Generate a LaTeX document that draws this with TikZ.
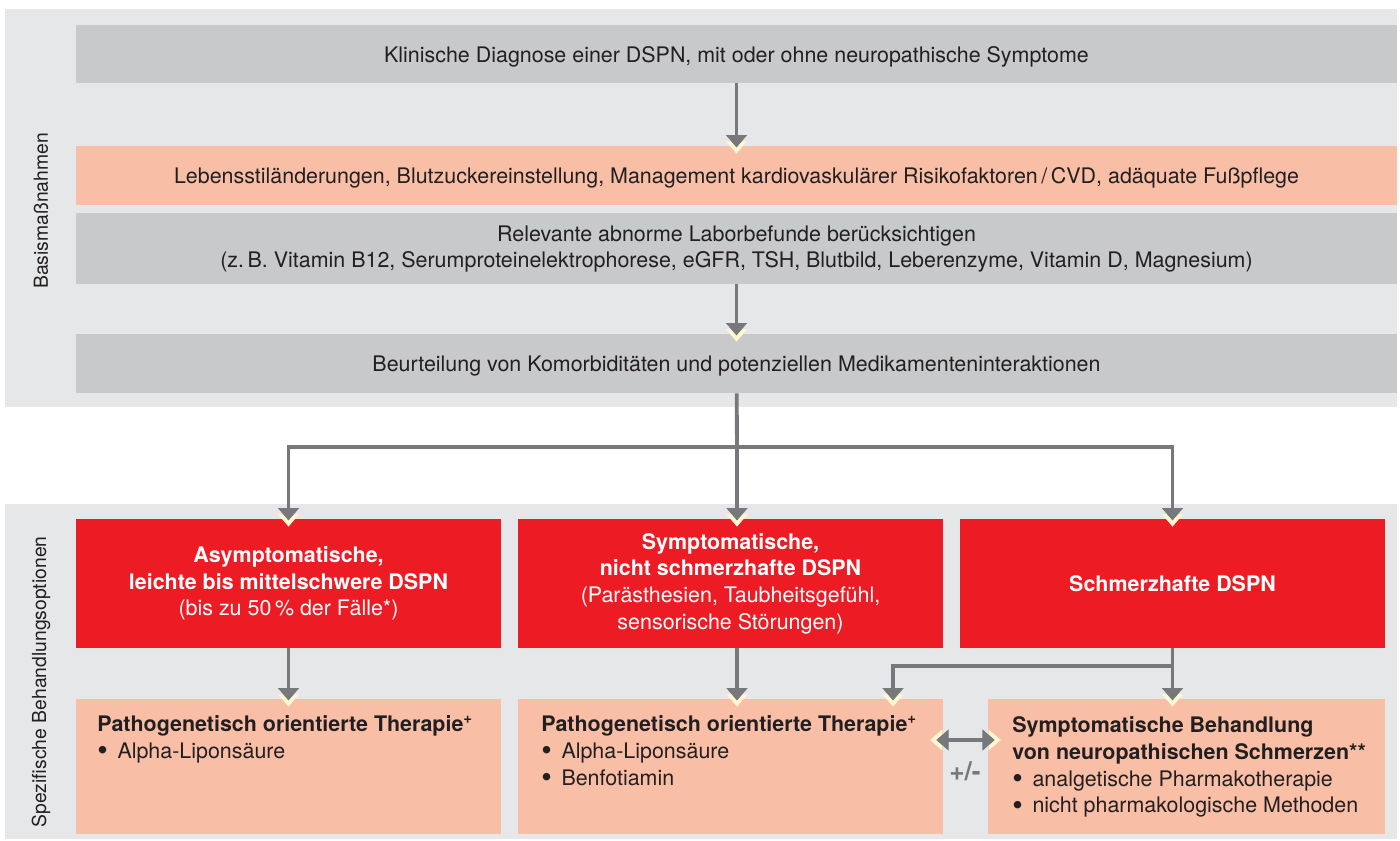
\documentclass[tikz,border=0pt]{standalone}
\usepackage{fontspec}
\setmainfont{TeX Gyre Heros}
\usetikzlibrary{arrows.meta}
\definecolor{panelgray}{HTML}{E6E7E8}
\definecolor{boxgray}{HTML}{C8C9CB}
\definecolor{salmon}{HTML}{F9BFA6}
\definecolor{dsred}{HTML}{ED1C24}
\definecolor{arrowgray}{HTML}{77787B}
\definecolor{cream}{HTML}{FFF6D2}
\definecolor{ink}{HTML}{231F20}
\newcommand{\pkt}{\raisebox{-0.12em}{\scalebox{1.4}{\textbullet}}\hspace{0.45em}}
\tikzstyle{panel}=[fill=panelgray]
\tikzstyle{basebox}=[inner sep=0pt, minimum width=26.42cm, align=center, text=ink, font=\fontsize{12.2}{14.8}\selectfont]
\tikzstyle{graybox}=[basebox, fill=boxgray]
\tikzstyle{lifebox}=[basebox, fill=salmon]
\tikzstyle{redbox}=[fill=dsred, text=white, inner sep=0pt, minimum width=8.5cm, minimum height=2.58cm, align=center, font=\fontsize{12.2}{15.2}\selectfont]
\tikzstyle{therapybox}=[fill=salmon, inner sep=0pt, minimum height=2.7cm]
\tikzstyle{therapytext}=[anchor=north west, inner sep=0pt, align=left, text=ink, font=\fontsize{12.2}{15.3}\selectfont]
\tikzstyle{sidelabel}=[rotate=90, text=ink, font=\fontsize{11}{13}\selectfont]
\tikzstyle{pmlabel}=[text=arrowgray, font=\fontsize{15}{17}\selectfont\bfseries]
\tikzstyle{conn}=[draw=arrowgray, line width=2.2pt]
\tikzstyle{arr}=[conn, -{Triangle[length=7pt,width=12pt,line width=0.4pt]}, shorten >=-1pt,
  preaction={draw=cream, -{Triangle[length=7pt,width=12pt,line width=0.4pt]}, shorten >=-4.5pt}]
\tikzstyle{dblarr}=[conn, {Triangle[length=7pt,width=12pt,line width=0.4pt]}-{Triangle[length=7pt,width=12pt,line width=0.4pt]}, shorten >=-4pt, shorten <=-4pt,
  preaction={draw=cream, {Triangle[length=7pt,width=12pt,line width=0.4pt]}-{Triangle[length=7pt,width=12pt,line width=0.4pt]}, shorten >=-7.5pt, shorten <=-7.5pt}]
\begin{document}
\begin{tikzpicture}[x=0.02cm, y=-0.02cm]
\useasboundingbox (0,0) rectangle (1400,841);
\fill[panel] (5,9) rectangle (1397,407);
\fill[panel] (5,504) rectangle (1397,839);
\node[sidelabel] at (41,211) (basis) {Basismaßnahmen};
\node[sidelabel] at (41,682) (spezifisch) {Spezifische Behandlungsoptionen};
\node[graybox, minimum height=1.16cm, text depth=0pt] at (736.5,54) (diag) {Klinische Diagnose einer DSPN, mit oder ohne neuropathische Symptome};
\node[lifebox, minimum height=1.18cm, text depth=0pt] at (736.5,175.5) (life) {Lebensstiländerungen, Blutzuckereinstellung, Management kardiovaskulärer Risikofaktoren\,/\,CVD, adäquate Fußpflege};
\node[graybox, minimum height=1.42cm] at (736.5,248.5) (labor) {Relevante abnorme Laborbefunde berücksichtigen\\(z.\,B. Vitamin B12, Serumproteinelektrophorese, eGFR, TSH, Blutbild, Leberenzyme, Vitamin D, Magnesium)};
\node[graybox, minimum height=1.18cm, text depth=0pt] at (736.5,363.5) (komorb) {Beurteilung von Komorbiditäten und potenziellen Medikamenteninteraktionen};
\node[redbox] at (288.5,583.5) (asym) {\textbf{Asymptomatische,}\\\textbf{leichte bis mittelschwere DSPN}\\(bis zu 50\,\% der Fälle*)};
\node[redbox] at (730.5,583.5) (sympt) {\textbf{Symptomatische,}\\\textbf{nicht schmerzhafte DSPN}\\(Parästhesien, Taubheitsgefühl,\\sensorische Störungen)};
\node[redbox] at (1172.5,583.5) (schmerz) {\textbf{Schmerzhafte DSPN}};
\node[therapybox, minimum width=8.5cm] at (288.5,766.5) (patho1) {};
\node[therapybox, minimum width=8.5cm] at (730.5,766.5) (patho2) {};
\node[therapybox, minimum width=7.94cm] at (1186.5,766.5) (sympbeh) {};
\node[therapytext] at (97,715) (patho1txt) {\textbf{Pathogenetisch orientierte Therapie\textsuperscript{+}}\\\pkt Alpha-Liponsäure};
\node[therapytext] at (541,715) (patho2txt) {\textbf{Pathogenetisch orientierte Therapie\textsuperscript{+}}\\\pkt Alpha-Liponsäure\\\pkt Benfotiamin};
\node[therapytext] at (1012,716) (sympbehtxt) {\textbf{Symptomatische Behandlung}\\\textbf{von neuropathischen Schmerzen**}\\\pkt analgetische Pharmakotherapie\\\pkt nicht pharmakologische Methoden};
\coordinate (split) at (737,447);
\coordinate (knick) at (893,666);
\coordinate (plusminus) at (965,740);
\draw[arr] (diag) -- (life);
\draw[arr] (labor) -- (komorb);
\draw[conn] (komorb) -- (split);
\draw[arr] (split) -| (asym);
\draw[arr] (split) -| (schmerz);
\draw[arr] (split) -- (split |- sympt.north);
\draw[arr] (asym) -- (patho1);
\draw[arr] (sympt.south -| split) -- (patho2.north -| split);
\draw[arr] (schmerz) -- (schmerz |- sympbeh.north);
\draw[arr] (schmerz) |- (knick) -- (knick |- patho2.north);
\draw[dblarr] (patho2.east |- plusminus) -- (sympbeh.west |- plusminus);
\node[pmlabel] at (965,771) (pmtext) {+/-};
\end{tikzpicture}
\end{document}
